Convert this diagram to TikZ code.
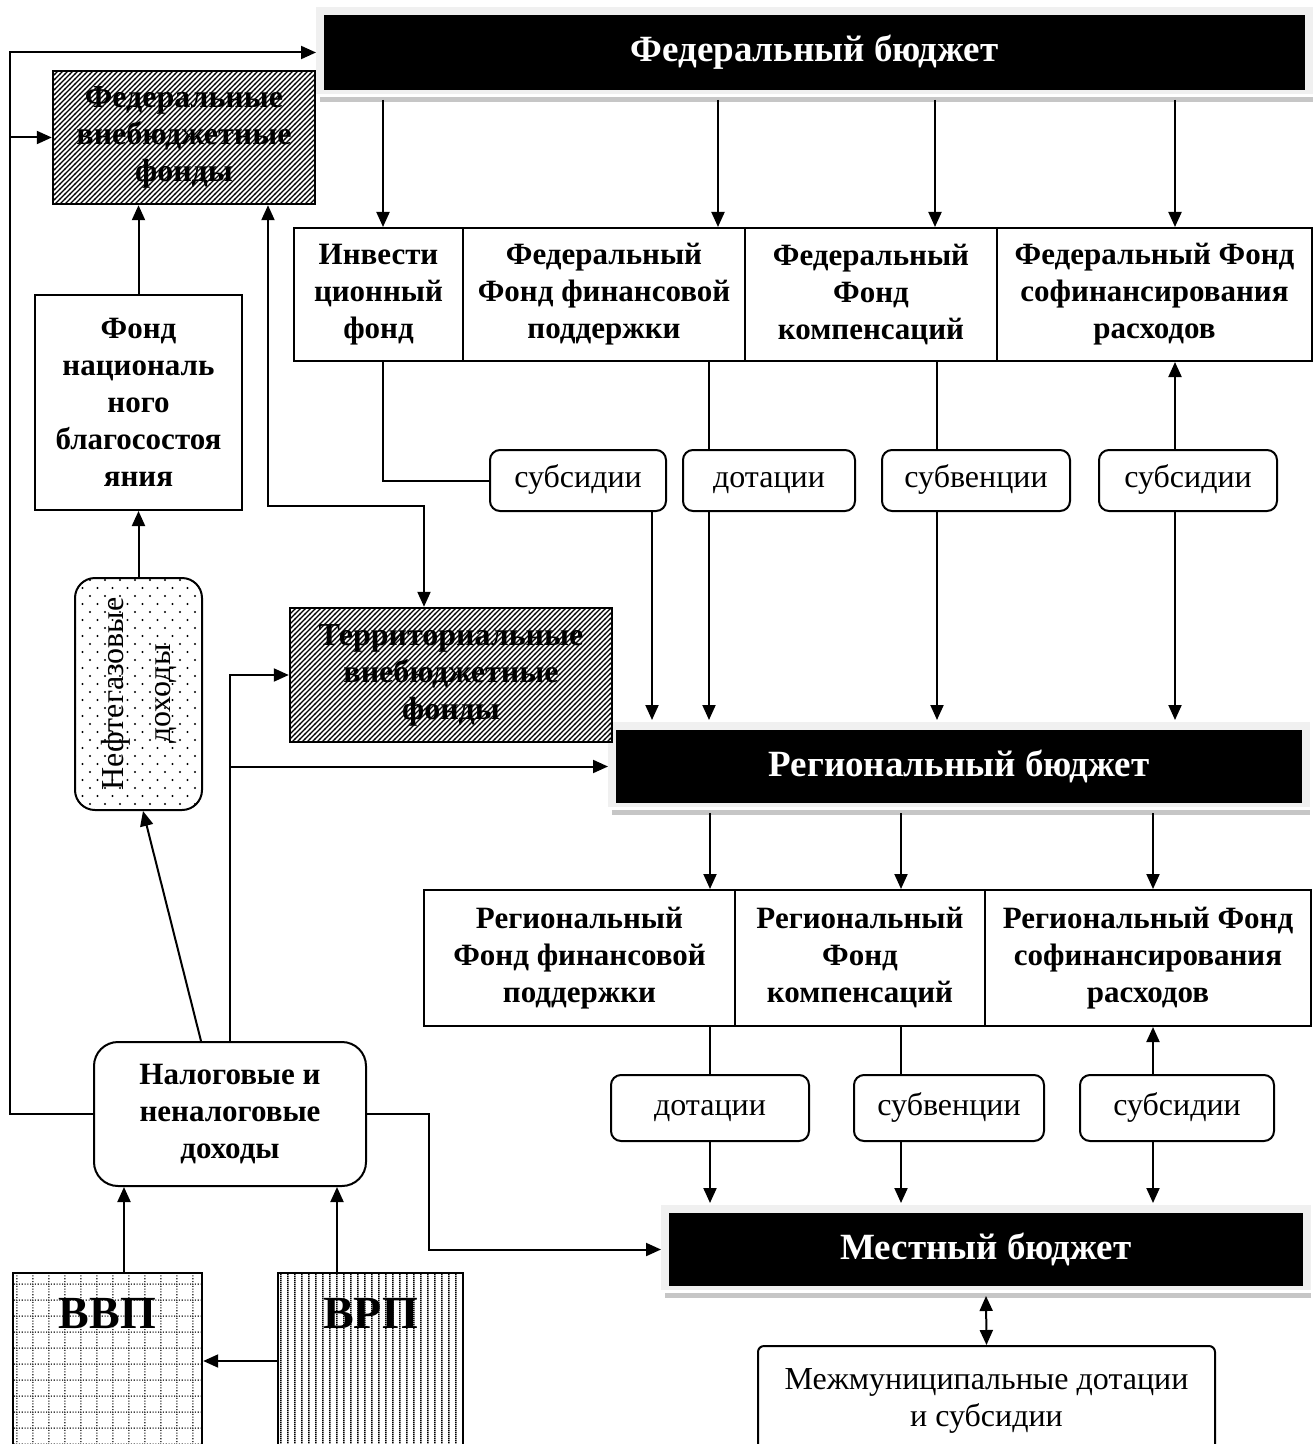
\documentclass[tikz,border=0pt]{standalone}
\usepackage{fontspec}
\setmainfont{Liberation Serif}
\usetikzlibrary{arrows.meta,patterns,backgrounds}

% sparse staggered dots
\pgfdeclarepatternformonly{sparsedots}{\pgfqpoint{-1pt}{-1pt}}{\pgfqpoint{6.5pt}{7pt}}{\pgfqpoint{7.5pt}{8pt}}{
  \pgfpathcircle{\pgfqpoint{0pt}{0pt}}{0.55pt}
  \pgfpathcircle{\pgfqpoint{3.75pt}{4pt}}{0.55pt}
  \pgfusepath{fill}}
% dotted grid
\pgfdeclarepatternformonly{dotgrid}{\pgfqpoint{0pt}{0pt}}{\pgfqpoint{8pt}{8pt}}{\pgfqpoint{8pt}{8pt}}{
  \pgfsetlinewidth{0.8pt}
  \pgfsetdash{{0.6pt}{0.9pt}}{0pt}
  \pgfpathmoveto{\pgfqpoint{0pt}{0.5pt}}\pgfpathlineto{\pgfqpoint{8pt}{0.5pt}}
  \pgfpathmoveto{\pgfqpoint{0.5pt}{0pt}}\pgfpathlineto{\pgfqpoint{0.5pt}{8pt}}
  \pgfusepath{stroke}}
% vertical lines
\pgfdeclarepatternformonly{vlines}{\pgfqpoint{0pt}{0pt}}{\pgfqpoint{3.6pt}{1pt}}{\pgfqpoint{3.6pt}{1pt}}{
  \pgfsetlinewidth{0.9pt}
  \pgfpathmoveto{\pgfqpoint{0.5pt}{0pt}}\pgfpathlineto{\pgfqpoint{0.5pt}{1pt}}
  \pgfusepath{stroke}}
% dense hatching
\pgfdeclarepatternformonly{densehatch}{\pgfqpoint{-1pt}{-1pt}}{\pgfqpoint{3.5pt}{3.5pt}}{\pgfqpoint{2.5pt}{2.5pt}}{
  \pgfsetlinewidth{0.6pt}
  \pgfpathmoveto{\pgfqpoint{-0.1pt}{-0.1pt}}\pgfpathlineto{\pgfqpoint{2.6pt}{2.6pt}}
  \pgfusepath{stroke}}

\begin{document}
\begin{tikzpicture}[x=0.5pt,y=-0.5pt,
    arrow/.style={line width=1pt,-{Triangle[length=7.5pt,width=6.5pt]}},
    twoway/.style={line width=1pt,{Triangle[length=7.5pt,width=6.5pt]}-{Triangle[length=7.5pt,width=6.5pt]}},
    link/.style={line width=1pt},
    budget/.style={fill=black,text=white,inner sep=0pt,outer xsep=4pt,outer ysep=5pt,
      font=\bfseries\fontsize{18.5}{22}\selectfont},
    fundbox/.style={draw,line width=1pt,inner sep=0pt,align=center,
      font=\bfseries\fontsize{15.5}{18.5}\selectfont},
    kindbox/.style={draw,line width=1pt,rounded corners=5pt,inner sep=0pt,align=center,
      font=\fontsize{16}{18.5}\selectfont,execute at begin node=\strut},
    hatchbox/.style={draw,line width=1.2pt,pattern=densehatch,inner sep=0pt,align=center,
      font=\bfseries\fontsize{16}{18.5}\selectfont}]
    \useasboundingbox (0,0) rectangle (1313,1444);

    % Draw budgets
    \node[budget,minimum width=490.5pt,minimum height=37.5pt] (fed) at (814.5,52.5) {Федеральный бюджет};
    \node[budget,minimum width=343pt,minimum height=36.5pt] (reg) at (959,766.5) {Региональный бюджет};
    \node[budget,minimum width=317pt,minimum height=36.5pt] (loc) at (986,1249.5) {Местный бюджет};
    \begin{scope}[on background layer]
        \foreach \b in {fed,reg,loc}{
            \fill[gray!12] ([shift={(0,2)}]\b.north west) rectangle ([shift={(0,-6)}]\b.south east);
            \fill[gray!45] ([shift={(4,-3)}]\b.south west) rectangle ([shift={(0,2)}]\b.south east);
        }
    \end{scope}

    % Draw federal funds
    \node[fundbox,minimum width=84.5pt,minimum height=66.5pt] (inv) at (378.5,294.5) {Инвести\\ционный\\фонд};
    \node[fundbox,minimum width=141pt,minimum height=66.5pt] (ffp) at (604,294.5) {Федеральный\\Фонд финансовой\\поддержки};
    \node[fundbox,minimum width=126pt,minimum height=66.5pt] (ffk) at (871,294.5) {Федеральный\\Фонд\\компенсаций};
    \node[fundbox,minimum width=157.5pt,minimum height=66.5pt] (ffs) at (1154.5,294.5) {Федеральный Фонд\\софинансирования\\расходов};

    \node[kindbox,minimum width=88pt,minimum height=30.5pt] (fsub) at (578,480.5) {субсидии};
    \node[kindbox,minimum width=86pt,minimum height=30.5pt] (fdot) at (769,480.5) {дотации};
    \node[kindbox,minimum width=94pt,minimum height=30.5pt] (fsubv) at (976,480.5) {субвенции};
    \node[kindbox,minimum width=89pt,minimum height=30.5pt] (fsubb) at (1188,480.5) {субсидии};

    % Draw regional funds
    \node[fundbox,minimum width=155.5pt,minimum height=68pt] (rfp) at (579.5,958) {Региональный\\Фонд финансовой\\поддержки};
    \node[fundbox,minimum width=125pt,minimum height=68pt] (rfk) at (860,958) {Региональный\\Фонд\\компенсаций};
    \node[fundbox,minimum width=163pt,minimum height=68pt] (rfs) at (1148,958) {Региональный Фонд\\софинансирования\\расходов};

    \node[kindbox,minimum width=99pt,minimum height=33pt] (rdot) at (710,1108) {дотации};
    \node[kindbox,minimum width=95pt,minimum height=33pt] (rsubv) at (949,1108) {субвенции};
    \node[kindbox,minimum width=97pt,minimum height=33pt] (rsub) at (1177,1108) {субсидии};

    \node[kindbox,rounded corners=3pt,minimum width=228.5pt,minimum height=57pt] (mun) at (986.5,1403) {Межмуниципальные дотации\\и субсидии};

    % Draw left column
    \node[hatchbox,minimum width=131pt,minimum height=66.5pt] (fvf) at (184,137.5) {Федеральные\\внебюджетные\\фонды};
    \node[fundbox,minimum width=103.5pt,minimum height=107.5pt] (nwf) at (138.5,402.5) {Фонд\\националь\\ного\\благосостоя\\яния};
    \node[draw,line width=1pt,rounded corners=10pt,pattern=sparsedots,minimum width=63.5pt,minimum height=116pt] (oil) at (138.5,694) {};
    \node[rotate=90,align=center,inner sep=0pt,font=\fontsize{16}{23.5}\selectfont] (oiltext) at (oil.center) {Нефтегазовые\\доходы};
    \node[hatchbox,minimum width=161pt,minimum height=67pt] (tvf) at (451,675) {Территориальные\\внебюджетные\\фонды};
    \node[fundbox,rounded corners=12pt,minimum width=136pt,minimum height=72pt] (tax) at (230,1114) {Налоговые и\\неналоговые\\доходы};
    \node[draw,line width=1.2pt,pattern=dotgrid,pattern color=black!75,minimum width=94.5pt,minimum height=88pt] (gdp) at (107.5,1361) {};
    \node[font=\bfseries\fontsize{23}{26}\selectfont] (gdptext) at (107.5,1313) {ВВП};
    \node[draw,line width=1.2pt,pattern=vlines,minimum width=92.5pt,minimum height=88pt] (grp) at (370.5,1361) {};
    \node[font=\bfseries\fontsize{23}{26}\selectfont] (grptext) at (370.5,1313) {ВРП};

    % Draw federal arrows
    \foreach \x/\n in {383/inv,718/ffp,935/ffk,1175/ffs}{
        \coordinate (top\n) at (\x,0);
        \draw[arrow] (fed.south -| top\n) -- (\n.north -| top\n);
    }
    \coordinate (c1) at (652,0);
    \coordinate (c2) at (709,0);
    \coordinate (c3) at (937,0);
    \coordinate (c4) at (1175,0);
    \draw[link] (inv.south -| topinv) |- (fsub.west);
    \draw[arrow] (fsub.south -| c1) -- (reg.north -| c1);
    \draw[link] (ffp.south -| c2) -- (fdot.north -| c2);
    \draw[arrow] (fdot.south -| c2) -- (reg.north -| c2);
    \draw[link] (ffk.south -| c3) -- (fsubv.north -| c3);
    \draw[arrow] (fsubv.south -| c3) -- (reg.north -| c3);
    \draw[arrow] (fsubb.north -| c4) -- (ffs.south -| c4);
    \draw[arrow] (fsubb.south -| c4) -- (reg.north -| c4);

    % Draw regional arrows
    \coordinate (r1) at (710,0);
    \coordinate (r2) at (901,0);
    \coordinate (r3) at (1153,0);
    \draw[arrow] (reg.south -| r1) -- (rfp.north -| r1);
    \draw[arrow] (reg.south -| r2) -- (rfk.north -| r2);
    \draw[arrow] (reg.south -| r3) -- (rfs.north -| r3);
    \draw[link] (rfp.south -| r1) -- (rdot.north -| r1);
    \draw[arrow] (rdot.south -| r1) -- (loc.north -| r1);
    \draw[link] (rfk.south -| r2) -- (rsubv.north -| r2);
    \draw[arrow] (rsubv.south -| r2) -- (loc.north -| r2);
    \draw[arrow] (rsub.north -| r3) -- (rfs.south -| r3);
    \draw[arrow] (rsub.south -| r3) -- (loc.north -| r3);
    \draw[twoway] (loc.south) -- (mun.north);

    % Draw left arrows
    \coordinate (rail) at (10,0);
    \draw[arrow] (tax.west) -- (tax.west -| rail) |- (fed.west);
    \draw[arrow] (rail |- fvf.west) -- (fvf.west);
    \draw[arrow] (nwf.north) -- (fvf.south -| nwf.north);
    \draw[arrow] (oil.north) -- (nwf.south);
    \draw[arrow] ([xshift=-14.5pt]tax.north) -- ([xshift=2.25pt]oil.south);
    \draw[arrow] (tax.north) -- (tax.north |- tvf.west) -- (tvf.west);
    \draw[arrow] (tax.north |- reg.west) -- (reg.west);
    \coordinate (bend) at (268,506);
    \coordinate (tvfin) at (424,0);
    \draw[twoway] (fvf.south -| bend) -- (bend) -| (tvf.north -| tvfin);
    \draw[arrow] (tax.east) -- ++(62,0) |- (loc.west);
    \coordinate (gdpup) at (124,0);
    \coordinate (grpup) at (337,0);
    \draw[arrow] (gdp.north -| gdpup) -- (tax.south -| gdpup);
    \draw[arrow] (grp.north -| grpup) -- (tax.south -| grpup);
    \draw[arrow] (grp.west) -- (gdp.east);
\end{tikzpicture}
\end{document}
